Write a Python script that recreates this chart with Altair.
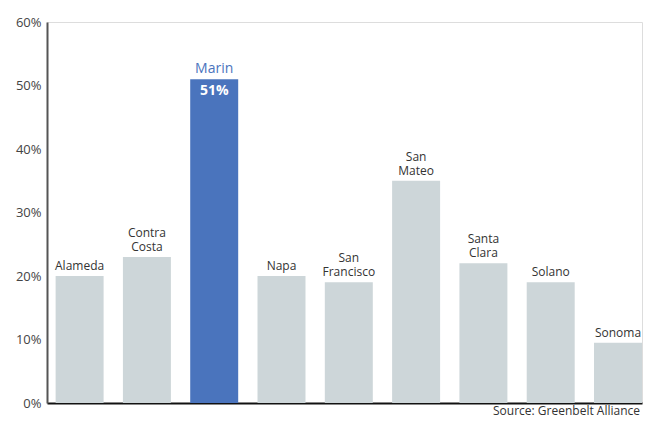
import altair as alt
import pandas as pd

counties = ["Alameda", "Contra Costa", "Marin", "Napa", "San Francisco",
            "San Mateo", "Santa Clara", "Solano", "Sonoma"]
line1 = ["", "Contra", "", "", "San", "San", "Santa", "", ""]
line2 = ["Alameda", "Costa", "Marin", "Napa", "Francisco",
         "Mateo", "Clara", "Solano", "Sonoma"]
values = [0.20, 0.23, 0.51, 0.20, 0.19, 0.35, 0.22, 0.19, 0.095]
highlight = "Marin"
value_label = "51%"
source = "Source: Greenbelt Alliance"

df = pd.DataFrame({"county": counties, "line1": line1, "line2": line2,
                   "value": values})
df["hl"] = df["county"] == highlight

FONT = "Open Sans"
GRAY = "#cdd6d9"
BLUE = "#4a74bd"
W, H = 595, 381

x = alt.X("county:N", sort=counties,
          scale=alt.Scale(paddingInner=0.287, paddingOuter=0.064, align=1),
          axis=alt.Axis(labels=False, ticks=False, title=None,
                        domainColor="#111", domainWidth=2))
y = alt.Y("value:Q",
          scale=alt.Scale(domain=[0, 0.6], nice=False),
          axis=alt.Axis(format="%", values=[0, 0.1, 0.2, 0.3, 0.4, 0.5, 0.6],
                        ticks=False, grid=False, title=None,
                        domainColor="#555", domainWidth=2,
                        labelFont=FONT, labelFontSize=13, labelColor="#444",
                        labelPadding=6))

base = alt.Chart(df).encode(x=x, y=y)

bars = base.mark_bar().encode(
    color=alt.condition(alt.datum.hl, alt.value(BLUE), alt.value(GRAY))
)

names2 = base.mark_text(baseline="bottom", dy=-3, font=FONT).encode(
    text="line2:N",
    color=alt.condition(alt.datum.hl, alt.value(BLUE), alt.value("#333")),
    size=alt.condition(alt.datum.hl, alt.value(14), alt.value(12))
)
names1 = alt.Chart(df[df["line1"] != ""]).mark_text(
    baseline="bottom", dy=-17, font=FONT, fontSize=12, color="#333"
).encode(x=x, y=y, text="line1:N")

inside = alt.Chart(df[df["hl"]]).mark_text(
    baseline="top", dy=5, font=FONT, fontSize=14, fontWeight="bold",
    color="white"
).encode(x=x, y=y, text=alt.value(value_label))

src = alt.Chart(pd.DataFrame({"t": [source]})).mark_text(
    align="right", baseline="bottom", font=FONT, fontSize=12, color="#333"
).encode(x=alt.value(W - 2), y=alt.value(H + 15), text="t:N")

chart = alt.layer(bars, names2, names1, inside, src).properties(
    width=W, height=H,
    autosize=alt.AutoSizeParams(type="none"),
    padding={"top": 14, "left": 39, "right": 3, "bottom": 16},
).configure_view(stroke=None).configure(background="white")

chart.save("out.html", embed_options={"renderer": "svg", "actions": False})
